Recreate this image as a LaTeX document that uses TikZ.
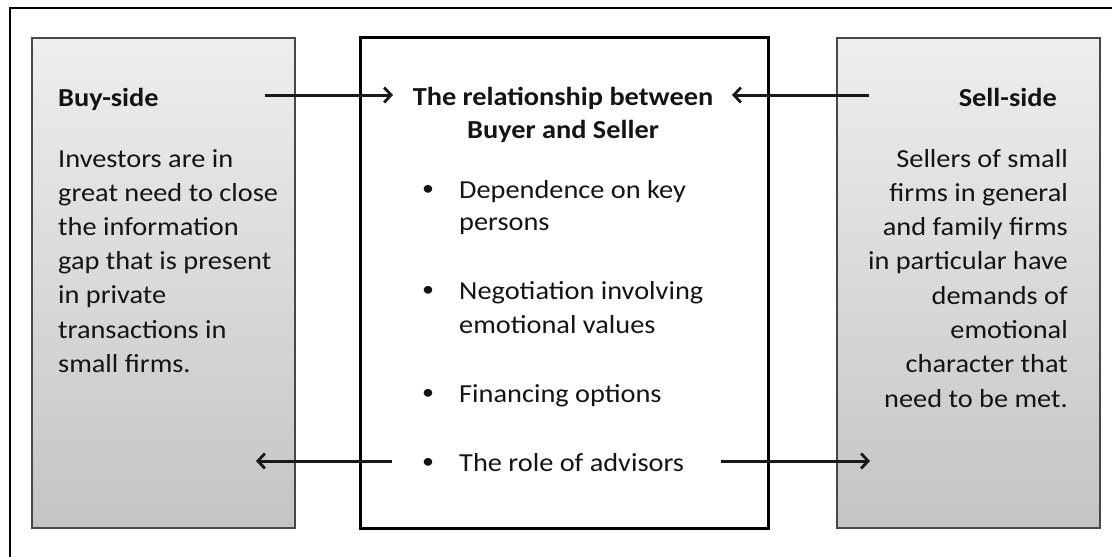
\documentclass[tikz,border=0pt]{standalone}
\usepackage{fontspec}
\setmainfont{Carlito}[FakeStretch=1.09]
\usetikzlibrary{arrows.meta}
\definecolor{boxtop}{HTML}{EEEEEE}
\definecolor{boxbot}{HTML}{C4C4C4}
\definecolor{txt}{HTML}{141414}
\tikzset{
  sidebox/.style={draw=black!72, line width=1.5pt, top color=boxtop, bottom color=boxbot, inner sep=0pt, anchor=north west},
  midbox/.style={draw=black, line width=2.6pt, fill=white, inner sep=0pt, anchor=north west},
  txtline/.style={inner sep=0pt, font=\fontsize{26}{34}\selectfont, text=txt},
  lline/.style={txtline, anchor=base west},
  rline/.style={txtline, anchor=base east},
  cline/.style={txtline, anchor=base, font=\fontsize{26}{34}\selectfont\bfseries},
  bul/.style={txtline, anchor=base, font=\fontsize{22}{30}\selectfont},
  link/.style={line width=3pt, draw=black!90, -{Straight Barb[length=7pt,width=15pt,line width=2.8pt]}}
}
\begin{document}
\begin{tikzpicture}[x=1pt,y=-1pt]
\useasboundingbox (0,0) rectangle (1112,557);
\fill[white] (0,0) rectangle (1112,557);
% outer frame (only top and left edges visible)
\draw[line width=2pt] (1112,8) -- (10,8) -- (10,557);
% boxes
\node[sidebox, minimum width=263pt, minimum height=490pt] (buy) at (31,37) {};
\node[midbox, minimum width=408pt, minimum height=491pt] (mid) at (359,36) {};
\node[sidebox, minimum width=263pt, minimum height=490pt] (sell) at (836,37) {};
% buy-side text
\node[lline, font=\fontsize{26}{34}\selectfont\bfseries] (buyhead) at (58,106) {Buy-side};
\node[lline] (b1) at (58,167) {Investors are in};
\node[lline] (b2) at (58,201.2) {great need to close};
\node[lline] (b3) at (58,235.4) {the information};
\node[lline] (b4) at (58,269.6) {gap that is present};
\node[lline] (b5) at (58,303.8) {in private};
\node[lline] (b6) at (58,338) {transactions in};
\node[lline] (b7) at (58,372.2) {small firms.};
% sell-side text
\node[rline, font=\fontsize{26}{34}\selectfont\bfseries] (sellhead) at (1057,106) {Sell-side};
\node[rline] (s1) at (1068,167) {Sellers of small};
\node[rline] (s2) at (1068,201.3) {firms in general};
\node[rline] (s3) at (1068,235.6) {and family firms};
\node[rline] (s4) at (1068,269.9) {in particular have};
\node[rline] (s5) at (1068,304.2) {demands of};
\node[rline] (s6) at (1068,338.5) {emotional};
\node[rline] (s7) at (1068,372.8) {character that};
\node[rline] (s8) at (1068,407) {need to be met.};
% center text
\node[cline] (t1) at (563,105) {The relationship between};
\node[cline] (t2) at (563,138) {Buyer and Seller};
\node[bul] (d1) at (428,195) {•};
\node[lline] (p1a) at (459,198) {Dependence on key};
\node[lline] (p1b) at (459,230) {persons};
\node[bul] (d2) at (428,296) {•};
\node[lline] (p2a) at (459,299) {Negotiation involving};
\node[lline] (p2b) at (459,333) {emotional values};
\node[bul] (d3) at (428,399) {•};
\node[lline] (p3) at (459,402) {Financing options};
\node[bul] (d4) at (428,468) {•};
\node[lline] (p4) at (459,471) {The role of advisors};
% arrow end points
\coordinate (a1s) at (265,95);
\coordinate (a1e) at (393,95);
\coordinate (a2s) at (869,95);
\coordinate (a2e) at (732,95);
\coordinate (a3s) at (392,461);
\coordinate (a3e) at (256,461);
\coordinate (a4s) at (721,461);
\coordinate (a4e) at (870,461);
\draw[link] (a1s) -- (a1e);
\draw[link] (a2s) -- (a2e);
\draw[link] (a3s) -- (a3e);
\draw[link] (a4s) -- (a4e);
\end{tikzpicture}
\end{document}
